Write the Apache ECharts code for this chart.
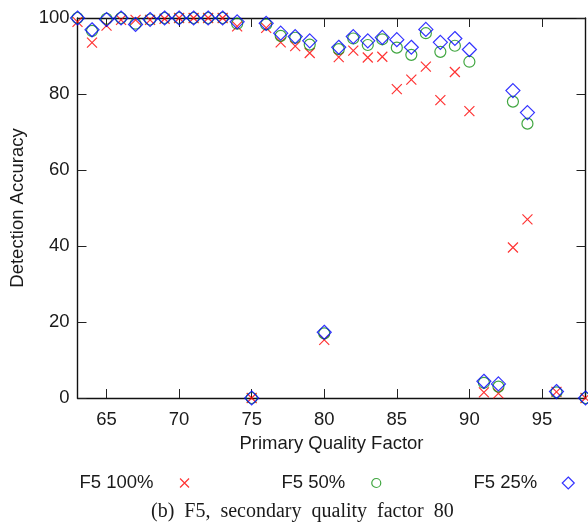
<!DOCTYPE html>
<html><head><meta charset="utf-8">
<script src="https://cdn.jsdelivr.net/npm/echarts@6/dist/echarts.min.js"></script>
<style>html,body{margin:0;padding:0;background:#fff}#c{width:588px;height:527px}</style>
</head><body><div id="c"></div>
<script>
const qualityFactors = [63,64,65,66,67,68,69,70,71,72,73,74,75,76,77,78,79,80,81,82,83,84,85,86,87,88,89,90,91,92,93,94,96,98];
const f5_100 = [99,93.5,98,99.5,99.5,99.5,99.8,100,100,100,100,97.8,0,97.4,93.6,92.6,90.8,15.3,89.7,91.4,89.6,89.8,81.3,83.8,87.2,78.4,85.8,75.5,1.5,1.2,39.6,47.0,1.6,0];
const f5_50 = [100,96.6,99.8,100,98.5,99.6,100,100,100,100,100,98.5,0,98.3,95.3,94.8,93,17,91.8,94.6,92.9,94.4,92.2,90.3,96,91.1,92.7,88.5,4.0,3.0,78.0,72.2,1.5,0];
const f5_25 = [100,96.9,99.6,100,98.3,99.6,100,100,100,100,100,99,0,98.6,96,95.1,94,17.3,92.3,95.1,94,94.9,94.3,92.3,97,93.6,94.6,91.7,4.4,3.7,80.9,75.1,1.7,0];
const xTicks = [65,70,75,80,85,90,95];
const yTicks = [0,20,40,60,80,100];
const seriesNames = ['F5 100%','F5 50%','F5 25%'];
const xTitle = 'Primary Quality Factor';
const yTitle = 'Detection Accuracy';
const caption = '(b)  F5,  secondary  quality  factor  80';

const pair = arr => qualityFactors.map((x, i) => [x, arr[i]]);
const chart = echarts.init(document.getElementById('c'), null, {renderer: 'canvas'});
const font = '"Liberation Sans", Arial, Helvetica, sans-serif';
const ink = '#1a1a1a';
const tick = vals => ({show: true, inside: true, length: 9, customValues: vals, lineStyle: {color: '#222', width: 1}});
const axLine = {show: true, onZero: false, lineStyle: {color: '#111', width: 1.4}};
const lbl = {fontFamily: font, fontSize: 18.5, color: ink};

const colors = ['#ff0000', '#109010', '#0000ff'];
const symbols = ['path://M0,0L10,10M10,0L0,10', 'circle', 'diamond'];
const sizes = [10, 11, 14];
const values = [f5_100, f5_50, f5_25];
const legendLeft = [79.5, 281.5, 473.5];
const legendIcon = [9, 9, 12];

const option = {
  animation: false,
  backgroundColor: '#fff',
  grid: {left: 77.5, right: 2.5, top: 18, bottom: 129},
  title: {
    text: caption, left: 151, top: 502, padding: 0,
    textStyle: {fontFamily: '"Liberation Serif", "Times New Roman", serif', fontSize: 20, fontWeight: 'normal', color: ink}
  },
  legend: seriesNames.map((n, i) => ({
    data: [n], left: legendLeft[i], top: 473.5, padding: 0, itemGap: 0,
    align: 'right', itemWidth: legendIcon[i], itemHeight: legendIcon[i],
    selectedMode: false,
    itemStyle: {borderWidth: 1.2},
    textStyle: {fontFamily: font, fontSize: 18.5, color: ink, padding: [0, 31 - 5 - legendIcon[i] / 2, 0, 0]}
  })),
  xAxis: [
    {type: 'value', min: 63, max: 98, position: 'bottom', axisLine: axLine,
     axisTick: tick(xTicks), axisLabel: Object.assign({customValues: xTicks, margin: 12}, lbl),
     splitLine: {show: false},
     name: xTitle, nameLocation: 'middle', nameGap: 36, nameTextStyle: lbl},
    {type: 'value', min: 63, max: 98, position: 'top', axisLine: axLine,
     axisTick: tick(xTicks), axisLabel: {show: false}, splitLine: {show: false}}
  ],
  yAxis: [
    {type: 'value', min: 0, max: 100, position: 'left', axisLine: axLine,
     axisTick: tick(yTicks), axisLabel: Object.assign({customValues: yTicks, margin: 8, padding: [5, 0, 0, 0]}, lbl),
     splitLine: {show: false},
     name: yTitle, nameLocation: 'middle', nameGap: 45, nameRotate: 90, nameTextStyle: lbl},
    {type: 'value', min: 0, max: 100, position: 'right', axisLine: axLine,
     axisTick: tick(yTicks), axisLabel: {show: false}, splitLine: {show: false}}
  ],
  series: seriesNames.map((n, i) => ({
    type: 'scatter', name: n, data: pair(values[i]),
    xAxisIndex: 0, yAxisIndex: 0, clip: false,
    symbol: symbols[i], symbolSize: sizes[i],
    itemStyle: {color: 'transparent', borderColor: colors[i], borderWidth: 1.2},
    emphasis: {disabled: true}
  }))
};
chart.setOption(option);
</script></body></html>
